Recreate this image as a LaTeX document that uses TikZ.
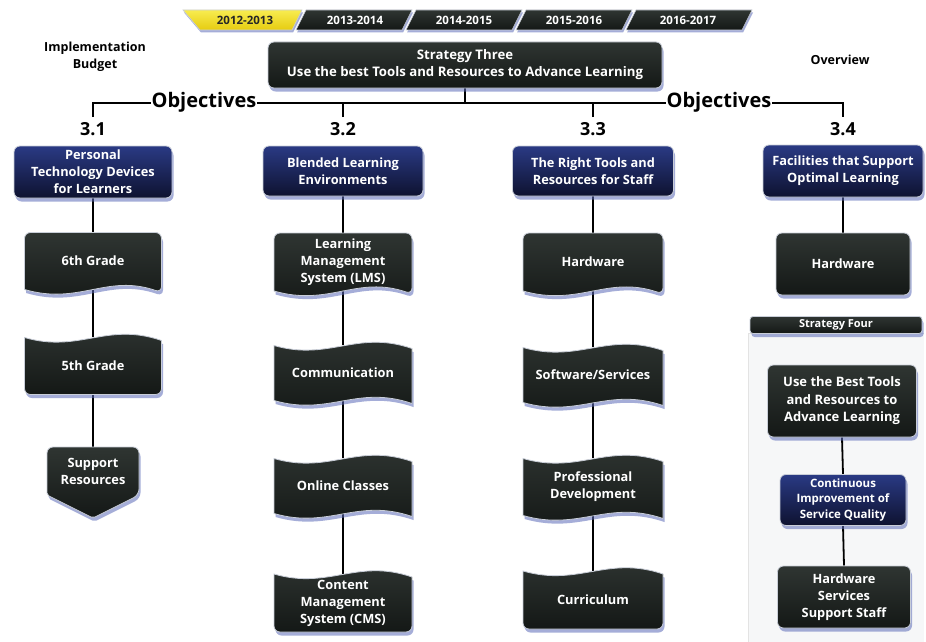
\documentclass[tikz,border=0pt]{standalone}
\usepackage{fontspec}
\setmainfont{Open Sans}
\usetikzlibrary{shadows,backgrounds,calc}
\definecolor{boxtop}{HTML}{2F3532}
\definecolor{boxbot}{HTML}{141816}
\definecolor{navytop}{HTML}{2A3A84}
\definecolor{navybot}{HTML}{0E1230}
\definecolor{edgec}{HTML}{C9CED8}
\definecolor{shadowc}{HTML}{5C6BB8}
\definecolor{tabyeltop}{HTML}{F8EC50}
\definecolor{tabyelbot}{HTML}{E6CC10}
\definecolor{panelc}{HTML}{F6F7F8}

\tikzset{
 lbl/.style={text=white, font=\bfseries\fontsize{12.8}{17}\selectfont, align=center, inner sep=0pt},
 darkfill/.style={top color=boxtop, bottom color=boxbot, draw=edgec, line width=0.8pt},
 navyfill/.style={top color=navytop, bottom color=navybot, draw=edgec, line width=0.8pt},
 shadowfill/.style={fill=shadowc, opacity=0.55},
 rbox/.style={lbl, rounded corners=6pt, darkfill,
   drop shadow={shadow xshift=1.5pt, shadow yshift=-3.5pt, fill=shadowc, opacity=0.55}},
 nbox/.style={rbox, navyfill},
 conn/.style={line width=1.8pt, black},
 numlbl/.style={font=\bfseries\fontsize{18}{21}\selectfont, inner sep=0pt},
 objlbl/.style={font=\bfseries\fontsize{20}{24}\selectfont, fill=white, inner xsep=1pt, inner ysep=0pt},
 toplbl/.style={font=\bfseries\fontsize{12.5}{17}\selectfont, align=center, inner sep=0pt},
 tablbl/.style={font=\bfseries\fontsize{11.5}{13}\selectfont, inner sep=0pt, text=white},
}

% x y w h  (pixel units, y downward)
\newcommand\pWB[4]{({#1-#3/2},{#2+#4/2}) [rounded corners=6pt] -- ({#1-#3/2},{#2-#4/2}) -- ({#1+#3/2},{#2-#4/2}) -- ({#1+#3/2},{#2+#4/2+3}) [sharp corners] .. controls ({#1+0.1*#3},{#2+#4/2-16}) and ({#1-0.1*#3},{#2+#4/2+16}) .. ({#1-#3/2},{#2+#4/2}) -- cycle}
\newcommand\pWT[4]{({#1-#3/2},{#2-#4/2}) .. controls ({#1-0.1*#3},{#2-#4/2+16}) and ({#1+0.1*#3},{#2-#4/2-16}) .. ({#1+#3/2},{#2-#4/2+3}) [rounded corners=6pt] -- ({#1+#3/2},{#2+#4/2}) -- ({#1-#3/2},{#2+#4/2}) [sharp corners] -- cycle}
\newcommand\pTP[4]{({#1-#3/2},{#2-#4/2}) .. controls ({#1-0.1*#3},{#2-#4/2+16}) and ({#1+0.1*#3},{#2-#4/2-16}) .. ({#1+#3/2},{#2-#4/2+3}) -- ({#1+#3/2},{#2+#4/2+3}) .. controls ({#1+0.1*#3},{#2+#4/2-16}) and ({#1-0.1*#3},{#2+#4/2+16}) .. ({#1-#3/2},{#2+#4/2}) -- cycle}
\newcommand\pOP[4]{({#1-#3/2},{#2+#4/2}) [rounded corners=6pt] -- ({#1-#3/2},{#2-#4/2}) -- ({#1+#3/2},{#2-#4/2}) -- ({#1+#3/2},{#2+#4/2}) [rounded corners=2pt] -- ({#1},{#2+#4/2+23}) -- cycle}

% #1 path macro, #2 name, #3 x, #4 y, #5 w, #6 h, #7 text
\newcommand\wshape[7]{%
  \begin{scope}[transform canvas={xshift=1.5pt,yshift=-3.5pt}]
    \fill[shadowfill] #1{#3}{#4}{#5}{#6};
  \end{scope}
  \shadedraw[darkfill] #1{#3}{#4}{#5}{#6};
  \node[lbl, minimum width=#5pt, minimum height=#6pt] (#2) at (#3,#4) {#7};
}

\begin{document}
\begin{tikzpicture}[x=1pt,y=-1pt]
\useasboundingbox (0,0) rectangle (926,642);
\begin{pgfonlayer}{background}
  \fill[white] (0,0) rectangle (926,642);
  \fill[panelc] (748,333) rectangle (924,642);
  \draw[gray!22, line width=0.6pt] (748,642) -- (748,333) -- (924,333);
\end{pgfonlayer}

% ---- year tabs ----
\begin{scope}[transform canvas={xshift=1pt,yshift=-2.5pt}]
  \fill[shadowfill] (183,10) -- (302,10) -- (292,30) -- (200,30) -- cycle;
  \fill[shadowfill] (306,10) -- (412,10) -- (402,30) -- (296,30) -- cycle;
  \fill[shadowfill] (416,10) -- (522,10) -- (512,30) -- (406,30) -- cycle;
  \fill[shadowfill] (526,10) -- (632,10) -- (622,30) -- (516,30) -- cycle;
  \fill[shadowfill] (636,10) -- (752,10) -- (742,30) -- (626,30) -- cycle;
\end{scope}
\shadedraw[top color=tabyeltop, bottom color=tabyelbot, draw=edgec, line width=0.6pt] (183,10) -- (302,10) -- (292,30) -- (200,30) -- cycle;
\shadedraw[darkfill, line width=0.6pt] (306,10) -- (412,10) -- (402,30) -- (296,30) -- cycle;
\shadedraw[darkfill, line width=0.6pt] (416,10) -- (522,10) -- (512,30) -- (406,30) -- cycle;
\shadedraw[darkfill, line width=0.6pt] (526,10) -- (632,10) -- (622,30) -- (516,30) -- cycle;
\shadedraw[darkfill, line width=0.6pt] (636,10) -- (752,10) -- (742,30) -- (626,30) -- cycle;
\node[tablbl, text=black!85] (t1) at (245,20) {2012-2013};
\node[tablbl] (t2) at (355,20) {2013-2014};
\node[tablbl] (t3) at (464,20) {2014-2015};
\node[tablbl] (t4) at (574,20) {2015-2016};
\node[tablbl] (t5) at (688,20) {2016-2017};

% ---- header ----
\node[toplbl] (impl) at (95,57) {Implementation\\Budget};
\node[toplbl] (ov) at (840,60) {Overview};
\node[rbox, font=\bfseries\fontsize{13.2}{17}\selectfont, minimum width=394pt, minimum height=46pt] (s3) at (465,65)
  {Strategy Three\\Use the best Tools and Resources to Advance Learning};

\coordinate (hl) at (0,103);
\coordinate (n1) at (93,117);
\coordinate (n2) at (343,117);
\coordinate (n3) at (593,117);
\coordinate (n4) at (843,117);
\node[objlbl] (ob1) at (204,102) {Objectives};
\node[objlbl] (ob2) at (719,102) {Objectives};

\node[numlbl] (l1) at (93,129) {3.1};
\node[numlbl] (l2) at (343,129) {3.2};
\node[numlbl] (l3) at (593,129) {3.3};
\node[numlbl] (l4) at (843,129) {3.4};

% ---- objectives ----
\node[nbox, minimum width=158pt, minimum height=52pt] (o1) at (93,172) {Personal\\Technology Devices\\for Learners};
\node[nbox, minimum width=160pt, minimum height=50pt] (o2) at (343,171) {Blended Learning\\Environments};
\node[nbox, minimum width=161pt, minimum height=50pt] (o3) at (593,171) {The Right Tools and\\Resources for Staff};
\node[nbox, minimum width=160pt, minimum height=52pt] (o4) at (843,171) {Facilities that Support\\Optimal Learning};

% ---- column 1 ----
\wshape{\pWB}{g6}{93}{261}{137}{57}{6th Grade}
\wshape{\pWT}{g5}{93}{366}{137}{57}{5th Grade}
\wshape{\pOP}{sr}{93}{471}{92}{48}{Support\\Resources}

% ---- column 2 ----
\wshape{\pWB}{lms}{343}{262}{138}{58}{Learning\\Management\\System (LMS)}
\wshape{\pTP}{com}{343}{373}{138}{55}{Communication}
\wshape{\pTP}{onl}{343}{486}{138}{55}{Online Classes}
\wshape{\pWT}{cms}{343}{603}{138}{58}{Content\\Management\\System (CMS)}

% ---- column 3 ----
\wshape{\pWB}{hw}{593}{262}{140}{58}{Hardware}
\wshape{\pTP}{sw}{593}{375}{140}{55}{Software/Services}
\wshape{\pTP}{pd}{593}{487}{140}{57}{Professional\\Development}
\wshape{\pWT}{cur}{593}{600}{140}{58}{Curriculum}

% ---- column 4 ----
\node[rbox, minimum width=134pt, minimum height=62pt] (hw4) at (843,264) {Hardware};
\node[rbox, rounded corners=3pt, font=\bfseries\fontsize{11}{13}\selectfont, minimum width=172pt, minimum height=17pt] (s4) at (836,325) {Strategy Four};
\node[rbox, font=\bfseries\fontsize{13}{17.5}\selectfont, minimum width=149pt, minimum height=72pt] (ub) at (842,401) {Use the Best Tools\\and Resources to\\Advance Learning};
\node[nbox, font=\bfseries\fontsize{11.5}{15.5}\selectfont, minimum width=126pt, minimum height=51pt] (ci) at (843,500) {Continuous\\Improvement of\\Service Quality};
\node[rbox, minimum width=133pt, minimum height=62pt] (hs) at (844,597) {Hardware\\Services\\Support Staff};

% ---- connectors ----
\begin{pgfonlayer}{background}
  \draw[conn] (n1) -- (n1|-hl) -- (n4|-hl) -- (n4);
  \draw[conn] (n2) -- (n2|-hl);
  \draw[conn] (n3) -- (n3|-hl);
  \draw[conn] (s3.south) -- (s3.south|-hl);
  \draw[conn] (o1.south) -- (g6.north);
  \draw[conn] (g6.south) -- (g5.north);
  \draw[conn] (g5.south) -- (sr.north);
  \draw[conn] (o2.south) -- (lms.north);
  \draw[conn] (lms.south) -- (com.north);
  \draw[conn] (com.south) -- (onl.north);
  \draw[conn] (onl.south) -- (cms.north);
  \draw[conn] (o3.south) -- (hw.north);
  \draw[conn] (hw.south) -- (sw.north);
  \draw[conn] (sw.south) -- (pd.north);
  \draw[conn] (pd.south) -- (cur.north);
  \draw[conn] (o4.south) -- (hw4.north);
  \draw[conn] (ub.south) -- (ci.north);
  \draw[conn] (ci.south) -- (hs.north);
\end{pgfonlayer}
\end{tikzpicture}
\end{document}
